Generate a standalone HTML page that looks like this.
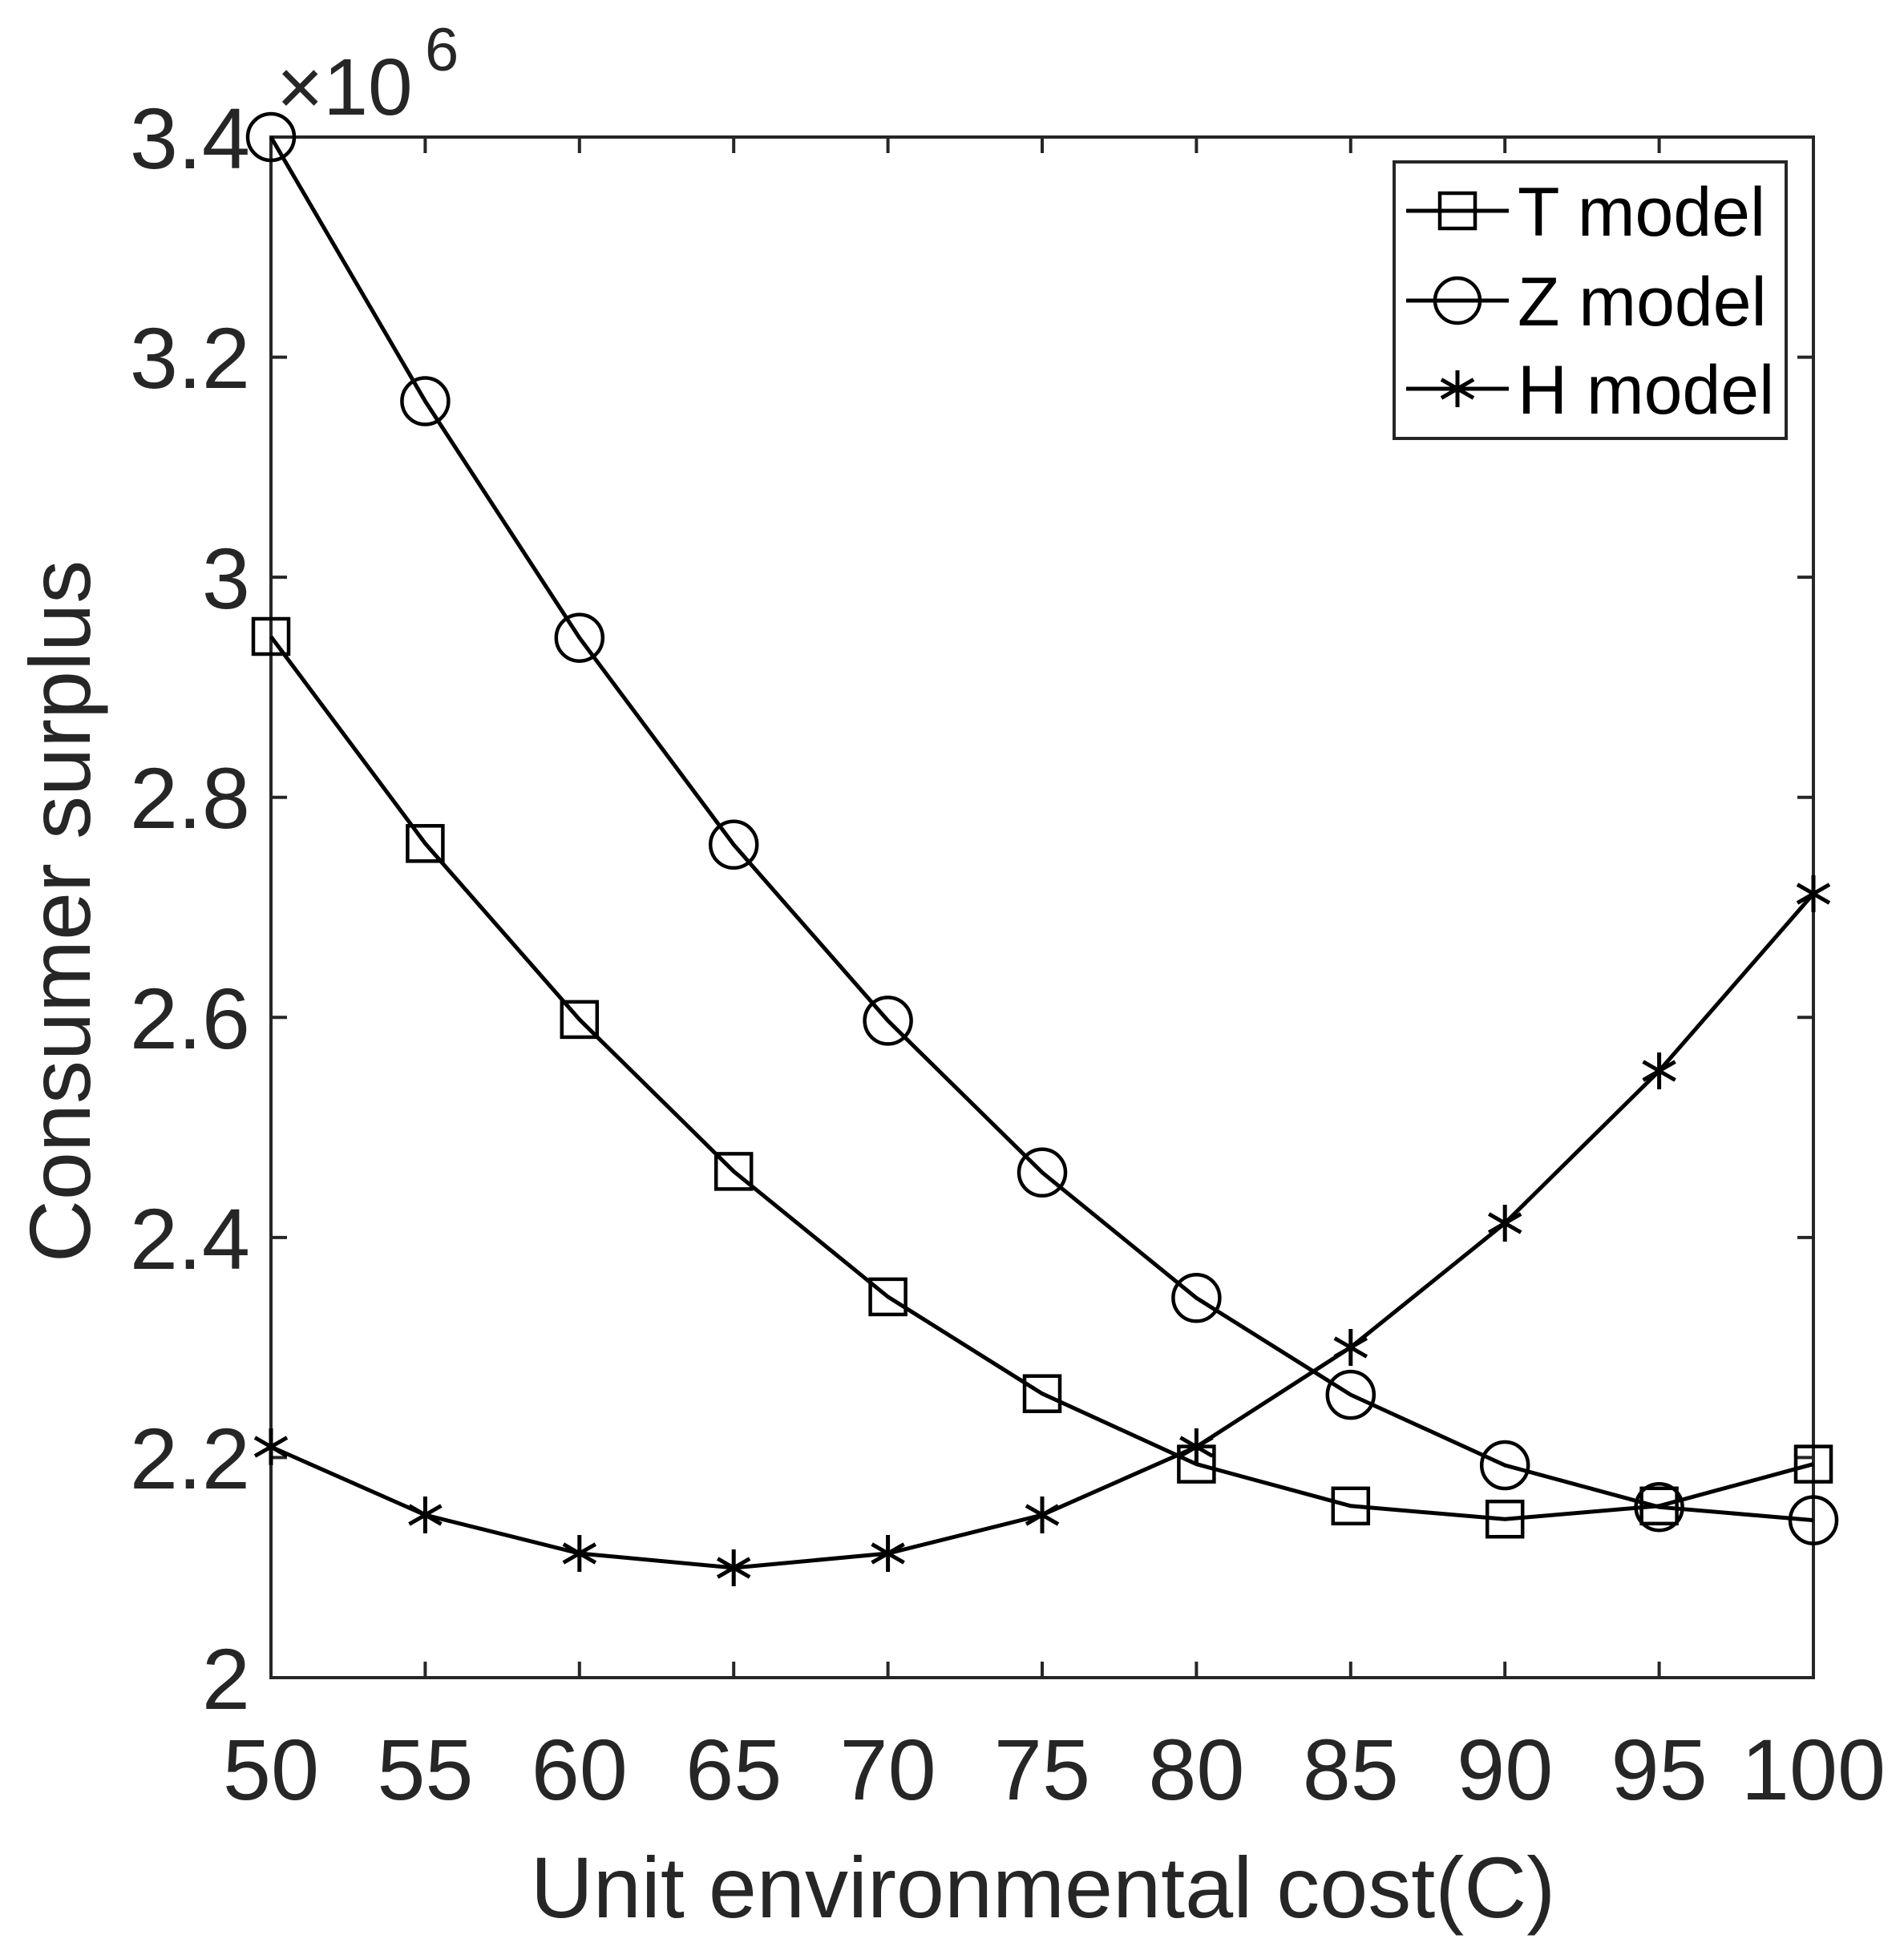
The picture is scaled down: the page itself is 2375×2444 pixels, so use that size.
<!DOCTYPE html>
<html><head><meta charset="utf-8"><style>
html,body{margin:0;padding:0;background:#fff;}
svg{display:block;}
text{font-family:"Liberation Sans",Arial,sans-serif;fill:#262626;}
</style></head><body>
<svg width="2375" height="2444" viewBox="0 0 2375 2444" xmlns="http://www.w3.org/2000/svg">
<rect width="2375" height="2444" fill="#fff"/>
<g stroke="#262626" stroke-width="4" fill="none">
<rect x="338" y="171" width="1924" height="1922"/>
<path d="M530.4 2093v-20M722.8 2093v-20M915.2 2093v-20M1107.6 2093v-20M1300 2093v-20M1492.4 2093v-20M1684.8 2093v-20M1877.2 2093v-20M2069.6 2093v-20
M530.4 171v20M722.8 171v20M915.2 171v20M1107.6 171v20M1300 171v20M1492.4 171v20M1684.8 171v20M1877.2 171v20M2069.6 171v20
M338 445.6h20M338 720.1h20M338 994.7h20M338 1269.3h20M338 1543.9h20M338 1818.4h20
M2262 445.6h-20M2262 720.1h-20M2262 994.7h-20M2262 1269.3h-20M2262 1543.9h-20M2262 1818.4h-20"/>
</g>
<g font-size="108" text-anchor="middle">
<text x="338" y="2245">50</text><text x="530.4" y="2245">55</text><text x="722.8" y="2245">60</text><text x="915.2" y="2245">65</text><text x="1107.6" y="2245">70</text><text x="1300" y="2245">75</text><text x="1492.4" y="2245">80</text><text x="1684.8" y="2245">85</text><text x="1877.2" y="2245">90</text><text x="2069.6" y="2245">95</text><text x="2262" y="2245">100</text>
</g>
<g font-size="108" text-anchor="end">
<text x="312" y="210">3.4</text><text x="312" y="484">3.2</text><text x="312" y="759">3</text><text x="312" y="1033">2.8</text><text x="312" y="1308">2.6</text><text x="312" y="1583">2.4</text><text x="312" y="1857">2.2</text><text x="312" y="2132">2</text>
</g>
<text x="345" y="143" font-size="100">×10</text>
<text x="530" y="88" font-size="76">6</text>
<text x="1301" y="2392" font-size="108" text-anchor="middle">Unit environmental cost(C)</text>
<text transform="translate(112,1137) rotate(-90)" font-size="108" text-anchor="middle">Consumer surplus</text>
<g stroke="#000" stroke-width="5" fill="none">
<polyline points="338,794.2 530.4,1052.3 722.8,1271.9 915.2,1461.4 1107.6,1617.9 1300,1738.7 1492.4,1826.6 1684.8,1878.8 1877.2,1895.2 2069.6,1878.8 2262,1826.6"/>
<polyline points="338,171 530.4,500.5 722.8,795.7 915.2,1053.8 1107.6,1273.4 1300,1462.8 1492.4,1619.3 1684.8,1740.1 1877.2,1828 2069.6,1880.2 2262,1896.6"/>
<polyline points="338,1805 530.4,1890 722.8,1938 915.2,1956 1107.6,1938 1300,1890 1492.4,1805 1684.8,1681 1877.2,1526 2069.6,1336 2262,1115"/>
</g>
<g stroke="#000" stroke-width="4.5" fill="none">
<rect x="316" y="772" width="44" height="44"/><rect x="508.4" y="1030.3" width="44" height="44"/><rect x="700.8" y="1249.9" width="44" height="44"/><rect x="893.2" y="1439.4" width="44" height="44"/><rect x="1085.6" y="1595.9" width="44" height="44"/><rect x="1278" y="1716.7" width="44" height="44"/><rect x="1470.4" y="1804.6" width="44" height="44"/><rect x="1662.8" y="1856.8" width="44" height="44"/><rect x="1855.2" y="1873.2" width="44" height="44"/><rect x="2047.6" y="1856.8" width="44" height="44"/><rect x="2240" y="1804.6" width="44" height="44"/>
<circle cx="338" cy="171" r="29"/><circle cx="530.4" cy="500.5" r="29"/><circle cx="722.8" cy="795.7" r="29"/><circle cx="915.2" cy="1053.8" r="29"/><circle cx="1107.6" cy="1273.4" r="29"/><circle cx="1300" cy="1462.8" r="29"/><circle cx="1492.4" cy="1619.3" r="29"/><circle cx="1684.8" cy="1740.1" r="29"/><circle cx="1877.2" cy="1828" r="29"/><circle cx="2069.6" cy="1880.2" r="29"/><circle cx="2262" cy="1896.6" r="29"/>
</g>
<defs><path id="st" d="M0 -23V23M-20 -11.5L20 11.5M-20 11.5L20 -11.5" stroke="#000" stroke-width="5"/></defs>
<use href="#st" x="338" y="1805"/><use href="#st" x="530.4" y="1890"/><use href="#st" x="722.8" y="1938"/><use href="#st" x="915.2" y="1956"/><use href="#st" x="1107.6" y="1938"/><use href="#st" x="1300" y="1890"/><use href="#st" x="1492.4" y="1805"/><use href="#st" x="1684.8" y="1681"/><use href="#st" x="1877.2" y="1526"/><use href="#st" x="2069.6" y="1336"/><use href="#st" x="2262" y="1115"/>
<rect x="1739" y="202" width="489" height="345" fill="#fff" stroke="#262626" stroke-width="4"/>
<g stroke="#000" stroke-width="5" fill="none">
<path d="M1754 263H1882M1754 375H1882M1754 485H1882"/>
<rect x="1796" y="241" width="44" height="44" stroke-width="4.5"/>
<circle cx="1818" cy="375" r="28" stroke-width="4.5"/>
</g>
<use href="#st" x="1818" y="485"/>
<g font-size="86">
<text x="1893" y="294" style="fill:#000">T model</text>
<text x="1893" y="406" style="fill:#000">Z model</text>
<text x="1893" y="516" style="fill:#000">H model</text>
</g>
</svg>
</body></html>
